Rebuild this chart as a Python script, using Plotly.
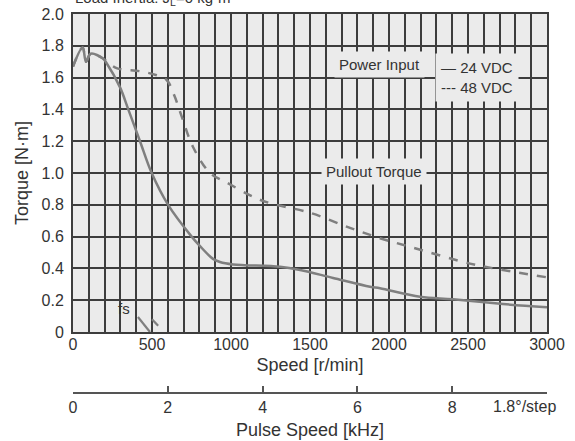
import plotly.graph_objects as go

# ---- data ----
speed_24 = [0, 61, 82, 112, 190, 213, 297, 350, 424, 498, 602, 751, 804, 886, 930, 1013,
            1310, 1437, 1646, 1880, 1943, 2196, 2405, 2722, 3000]
torque_24 = [1.67, 1.79, 1.70, 1.75, 1.72, 1.69, 1.54, 1.40, 1.20, 1.00, 0.80, 0.60, 0.54,
             0.46, 0.44, 0.425, 0.41, 0.39, 0.34, 0.285, 0.275, 0.222, 0.206, 0.176, 0.155]

speed_48 = [0, 61, 82, 112, 190, 276, 424, 530, 593, 640, 690, 759, 867, 973, 1140, 1247,
            1500, 1753, 1943, 2133, 2513, 2722, 3000]
torque_48 = [1.67, 1.79, 1.70, 1.75, 1.72, 1.66, 1.64, 1.615, 1.585, 1.49, 1.35, 1.165, 1.00,
             0.94, 0.85, 0.81, 0.75, 0.655, 0.59, 0.536, 0.43, 0.39, 0.344]

fs_speed_24 = [411, 487]
fs_torque_24 = [0.094, 0.0]
fs_speed_48 = [500, 575]
fs_torque_48 = [0.08, 0.0]

speed_ticks = list(range(0, 3001, 100))
speed_labels = [str(v) if v % 500 == 0 else "" for v in speed_ticks]
torque_ticks = [round(0.2 * i, 1) for i in range(11)]
torque_labels = ["0", "0.2", "0.4", "0.6", "0.8", "1.0", "1.2", "1.4", "1.6", "1.8", "2.0"]
pulse_ticks = [0, 2, 4, 6, 8, 10]
pulse_labels = ["0", "2", "4", "6", "8", ""]

FONT = "Liberation Sans, Arial, sans-serif"
TXT = "#333333"
GRID = "#3d3d3d"
BG = "#ebebeb"
CURVE = "#7f7f7f"

fig = go.Figure()
fig.add_trace(go.Scatter(x=speed_24, y=torque_24, mode="lines", name="24 VDC",
                         line=dict(color=CURVE, width=2.5), line_shape="spline"))
fig.add_trace(go.Scatter(x=speed_48, y=torque_48, mode="lines", name="48 VDC",
                         line=dict(color=CURVE, width=2.5, dash="dash"), line_shape="spline"))
fig.add_trace(go.Scatter(x=fs_speed_24, y=fs_torque_24, mode="lines", showlegend=False,
                         line=dict(color=CURVE, width=2.2)))
fig.add_trace(go.Scatter(x=fs_speed_48, y=fs_torque_48, mode="lines", showlegend=False,
                         line=dict(color=CURVE, width=2.2, dash="dash")))

H = 441
plot_top = 14
axis2_y = 393
main_bottom = 332
b_margin = H - axis2_y
paper_h = axis2_y - plot_top
dom0 = (axis2_y - main_bottom) / paper_h

fig.update_layout(
    width=575, height=441,
    margin=dict(l=73, r=28, t=plot_top, b=b_margin, autoexpand=False),
    paper_bgcolor="white", plot_bgcolor=BG,
    showlegend=False,
    font=dict(family=FONT, size=15, color=TXT),
    xaxis=dict(range=[0, 3000], tickmode="array", tickvals=speed_ticks, ticktext=speed_labels,
               showgrid=True, gridcolor=GRID, gridwidth=2, zeroline=False,
               showline=True, linecolor=GRID, linewidth=2, mirror=True, ticks="",
               tickfont=dict(size=16), ticklabelstandoff=-3, automargin=False,
               title=dict(text="Speed [r/min]", standoff=6), anchor="y"),
    yaxis=dict(range=[0, 2.0], domain=[dom0, 1], tickmode="array", tickvals=torque_ticks,
               ticktext=torque_labels, showgrid=True, gridcolor=GRID, gridwidth=2,
               zeroline=False, showline=True, linecolor=GRID, linewidth=2, mirror=True,
               ticks="", tickfont=dict(size=16), ticklabelstandoff=4, automargin=False,
               title=dict(text="Torque [N·m]", standoff=8)),
    xaxis2=dict(range=[0, 10], overlaying="x", anchor="free", position=0, side="bottom",
                tickmode="array", tickvals=pulse_ticks, ticktext=pulse_labels,
                showgrid=False, zeroline=False, showline=True, linecolor="#555555",
                linewidth=1.5, ticks="inside", ticklen=6, tickwidth=1.5, tickcolor="#555555",
                tickfont=dict(size=16), automargin=False,
                title=dict(text="Pulse Speed [kHz]", standoff=7)),
)

annotations = [
    dict(text="Load Inertia: J<sub>L</sub>=0 kg·m<sup>2</sup>", xref="paper", yref="paper",
         x=0, y=1, xanchor="left", yanchor="bottom", yshift=4, showarrow=False,
         font=dict(size=15)),
    dict(text="Power Input", x=1943, y=1.68, xanchor="center", yanchor="middle",
         showarrow=False, bgcolor=BG, borderpad=4),
    dict(text="— 24 VDC<br>--- 48 VDC", x=2560, y=1.60, xanchor="center", yanchor="middle",
         showarrow=False, bgcolor=BG, borderpad=5, align="left"),
    dict(text="Pullout Torque", x=1905, y=1.01, xanchor="center", yanchor="middle",
         showarrow=False, bgcolor=BG, borderpad=4),
    dict(text="fs", x=323, y=0.145, xanchor="center", yanchor="middle", showarrow=False),
    dict(text="1.8°/step", xref="x2", yref="paper", x=10, y=0, xanchor="right", yanchor="top",
         yshift=-3, xshift=11, showarrow=False, font=dict(size=16)),
]
fig.update_layout(annotations=annotations)

fig.write_html("out.html", config={"displayModeBar": False},
               post_script="document.body.style.margin='0';document.body.style.overflow='hidden';")
